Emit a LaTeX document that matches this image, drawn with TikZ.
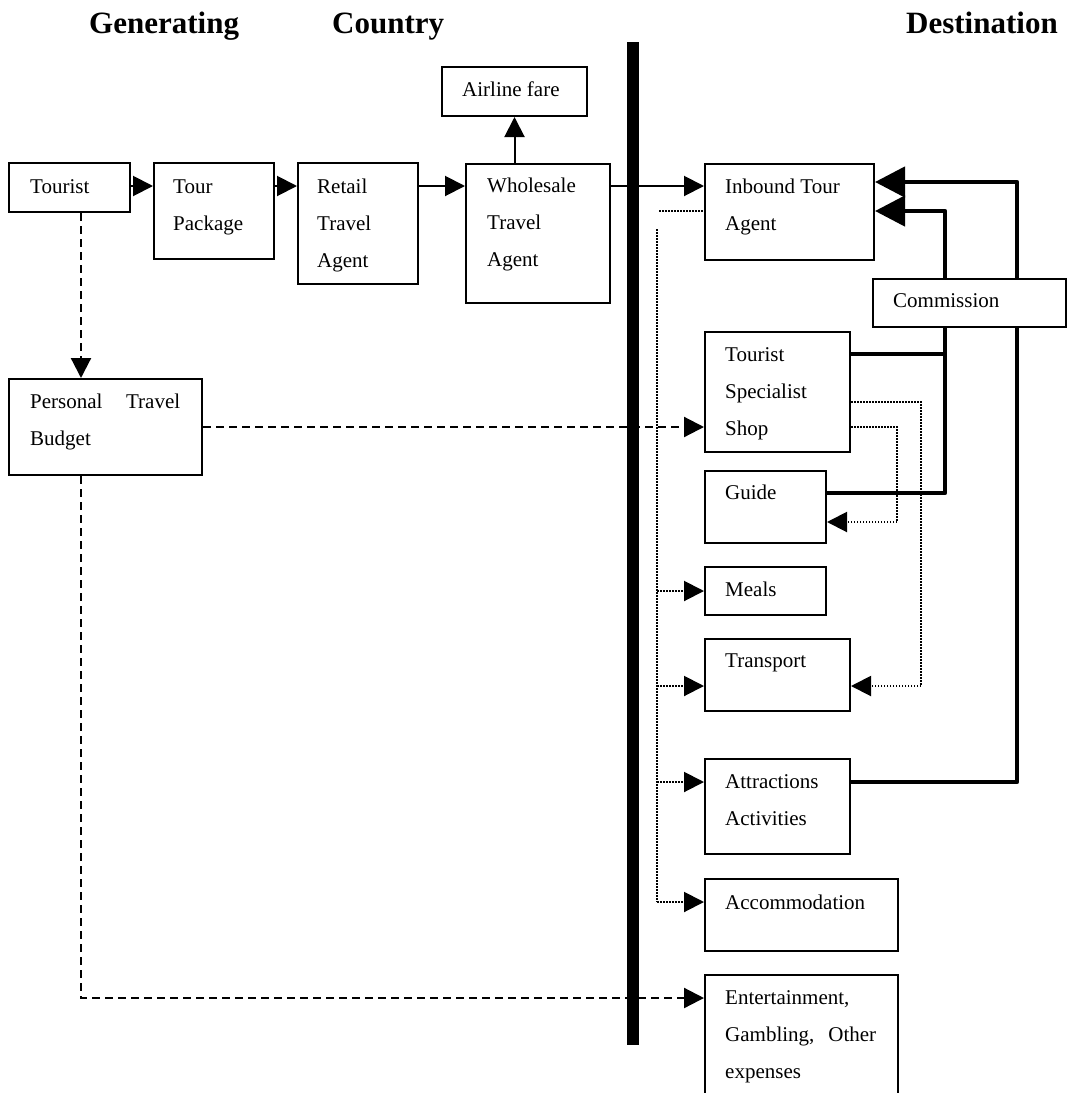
\documentclass[tikz,border=0pt]{standalone}
\usepackage{fontspec}
\setmainfont{Liberation Serif}
\usetikzlibrary{arrows.meta,calc}
\newcommand{\mlines}[1]{\begin{tabular}[t]{@{}l@{}}#1\end{tabular}}
\begin{document}
\begin{tikzpicture}[x=1pt,y=-1pt,
  box/.style={draw, line width=2pt, anchor=north west, inner sep=0, fill=white},
  txt/.style={anchor=base west, inner sep=0, font=\fontsize{21}{37}\selectfont},
  ttl/.style={anchor=base west, inner sep=0, font=\fontsize{31}{37}\selectfont\bfseries},
  ln/.style={line width=2pt},
  tip/.style={-{Triangle[length=20pt,width=20pt]}},
  dsh/.style={line width=2.2pt, dash pattern=on 8pt off 5pt},
  dot/.style={line width=2pt, dash pattern=on 1.5pt off 1.5pt},
  heavyline/.style={line width=4.6pt, line join=round},
  heavy/.style={heavyline, -{Triangle[length=30pt,width=30pt]}}
]
\clip (0,0) rectangle (1067,1093);

% titles
\node[ttl] (t1) at (89,33) {Generating};
\node[ttl] (t2) at (332,33) {Country};
\node[ttl] (t3) at (906,33) {Destination};

% border bar
\node[fill, anchor=north west, inner sep=0, minimum width=12pt, minimum height=1003pt] (bar) at (627,42) {};

% boxes
\node[box, minimum width=121pt, minimum height=49pt] (tourist) at (8,162) {};
\node[box, minimum width=120pt, minimum height=96pt] (tourpkg) at (153,162) {};
\node[box, minimum width=120pt, minimum height=121pt] (retail) at (297,162) {};
\node[box, minimum width=144pt, minimum height=139pt] (wholesale) at (465,163) {};
\node[box, minimum width=145pt, minimum height=49pt] (airline) at (441,66) {};
\node[box, minimum width=169pt, minimum height=96pt] (inbound) at (704,163) {};
\node[box, minimum width=145pt, minimum height=120pt] (shop) at (704,331) {};
\node[box, minimum width=121pt, minimum height=72pt] (guide) at (704,470) {};
\node[box, minimum width=121pt, minimum height=48pt] (meals) at (704,566) {};
\node[box, minimum width=145pt, minimum height=72pt] (transport) at (704,638) {};
\node[box, minimum width=145pt, minimum height=95pt] (attr) at (704,758) {};
\node[box, minimum width=193pt, minimum height=72pt] (accom) at (704,878) {};
\node[box, minimum width=193pt, minimum height=160pt] (ent) at (704,974) {};
\node[box, minimum width=193pt, minimum height=96pt] (ptb) at (8,378) {};

% helper coordinates
\coordinate (ymain) at (0,186);
\coordinate (ya) at (0,182);
\coordinate (yb) at (0,211);
\coordinate (xd) at (81,0);
\coordinate (yshop) at (0,427);
\coordinate (yent) at (0,998);
\coordinate (ytr) at (0,686);
\coordinate (yat) at (0,782);
\coordinate (yac) at (0,902);
\coordinate (ygu) at (0,522);
\coordinate (ysh) at (0,402);
\coordinate (xv) at (657,0);
\coordinate (vtop) at (657,229);
\coordinate (dtop) at (659,211);
\coordinate (c1) at (1017,182);
\coordinate (c2) at (945,211);
\coordinate (c3) at (945,354);
\coordinate (d1) at (921,686);
\coordinate (d2) at (897,522);

% solid flow
\draw[ln,tip] (tourist.east |- ymain) -- (tourpkg.west |- ymain);
\draw[ln,tip] (tourpkg.east |- ymain) -- (retail.west |- ymain);
\draw[ln,tip] (retail.east |- ymain) -- (wholesale.west |- ymain);
\draw[ln,tip] (wholesale.east |- ymain) -- (inbound.west |- ymain);
\draw[ln,tip] (airline.south |- wholesale.north) -- (airline.south);

% dashed budget flow
\draw[dsh,tip] (tourist.south -| xd) -- (ptb.north -| xd);
\draw[dsh,tip] (ptb.east |- yshop) -- (shop.west |- yshop);
\draw[dsh,tip] (ptb.south -| xd) -- (xd |- yent) -- (ent.west |- yent);

% dotted inbound distribution
\draw[dot] (dtop) -- (inbound.west |- yb);
\draw[dot] (vtop) -- (xv |- yac);
\draw[dot,tip] (xv |- meals.west) -- (meals.west);
\draw[dot,tip] (xv |- ytr) -- (transport.west |- ytr);
\draw[dot,tip] (xv |- yat) -- (attr.west |- yat);
\draw[dot,tip] (xv |- yac) -- (accom.west |- yac);
\draw[dot,tip] (shop.east |- ysh) -| (d1) -- (transport.east |- ytr);
\draw[dot,tip] (shop.east |- yshop) -| (d2) -- (guide.east |- ygu);

% heavy commission lines
\draw[heavy] (attr.east |- yat) -| (c1) -- (inbound.east |- ya);
\draw[heavy] ($(guide.north east)+(0,23)$) -| (c2) -- (inbound.east |- yb);
\draw[heavyline] ($(shop.north east)+(0,23)$) -- (c3);

\node[box, minimum width=193pt, minimum height=48pt] (comm) at (872,278) {};

% texts
\node[txt] (l-tourist) at (30,193) {Tourist};
\node[txt] (l-tourpkg) at (173,193) {\mlines{Tour\\Package}};
\node[txt] (l-retail) at (317,193) {\mlines{Retail\\Travel\\Agent}};
\node[txt] (l-wholesale) at (487,192) {\mlines{Wholesale\\Travel\\Agent}};
\node[txt] (l-airline) at (462,96) {Airline fare};
\node[txt] (l-inbound) at (725,193) {\mlines{Inbound Tour\\Agent}};
\node[txt] (l-comm) at (893,307) {Commission};
\node[txt] (l-shop) at (725,361) {\mlines{Tourist\\Specialist\\Shop}};
\node[txt] (l-guide) at (725,499) {Guide};
\node[txt] (l-meals) at (725,596) {Meals};
\node[txt] (l-transport) at (725,667) {Transport};
\node[txt] (l-attr) at (725,788) {\mlines{Attractions\\Activities}};
\node[txt] (l-accom) at (725,909) {Accommodation};
\node[txt] (l-ent) at (725,1004) {\mlines{Entertainment,\\\hbox to 151pt{Gambling,\hfill Other}\\expenses}};
\node[txt] (l-ptb) at (30,408) {\mlines{\hbox to 150pt{Personal\hfill Travel}\\Budget}};
\end{tikzpicture}
\end{document}
